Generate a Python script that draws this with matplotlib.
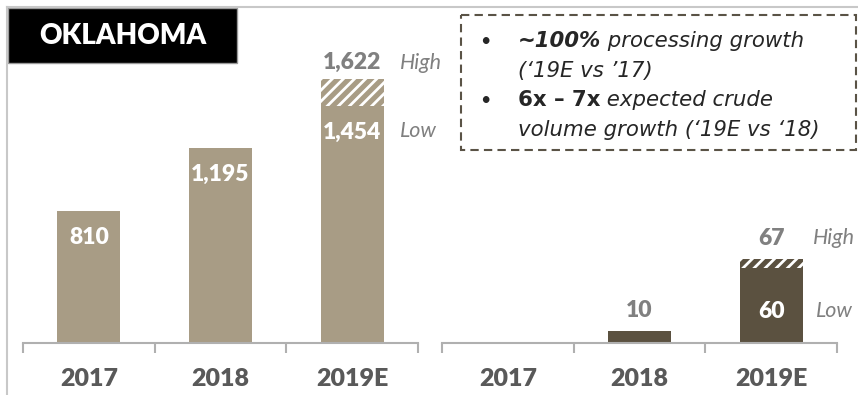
"""
Oklahoma: processing volumes (left) and crude volumes (right), 2017-2019E.
Output: out.png
"""

import matplotlib.pyplot as plt
from matplotlib.patches import Rectangle

plt.rcParams['font.family'] = ['Lato', 'DejaVu Sans']
plt.rcParams['hatch.linewidth'] = 2.0

# ── data ──────────────────────────────────────────────────────────────────────
years = ['2017', '2018', '2019E']
processing_low = [810, 1195, 1454]
processing_high = 1622
crude_low = [0, 10, 60]
crude_high = 67

TAN = '#a89c85'
DARK = '#5b5140'
AXIS = '#b0b0b0'
TXT = '#595959'
MUTED = '#808080'
NOTE = '#262626'

W, H = 858, 395
fig = plt.figure(figsize=(W / 100, H / 100), dpi=100)


def px(x0, y0, x1, y1):
    return [x0 / W, 1 - y1 / H, (x1 - x0) / W, (y1 - y0) / H]


def style(ax, ymax):
    ax.set_xlim(-0.5, 2.5)
    ax.set_ylim(0, ymax)
    for s in ['top', 'right', 'left']:
        ax.spines[s].set_visible(False)
    ax.spines['bottom'].set_color(AXIS)
    ax.spines['bottom'].set_linewidth(1.5)
    ax.set_yticks([])
    ax.set_xticks(range(len(years)), years, fontsize=18, fontweight='heavy', color=TXT)
    ax.set_xticks([-0.5, 0.5, 1.5, 2.5], minor=True)
    ax.tick_params(axis='x', which='major', length=0, pad=18)
    ax.tick_params(axis='x', which='minor', length=7, width=1.5, color=AXIS)
    ax.patch.set_alpha(0)


def label(ax, x, y, s, dy, color='white', **kw):
    kw.setdefault('fontweight', 'heavy')
    kw.setdefault('fontsize', 16.5)
    kw.setdefault('ha', 'center')
    ax.annotate(s, (x, y), xytext=(0, dy), textcoords='offset points',
                va='center', color=color, **kw)


def tag(ax, x, y, s, dy):
    label(ax, x, y, s, dy, color=MUTED, fontweight='normal', fontstyle='italic',
          fontsize=15.5, ha='left')


ax1 = fig.add_axes(px(23, 7, 418, 343))
ax2 = fig.add_axes(px(442, 7, 837, 343))
style(ax1, 2061)
style(ax2, 269)

# ── processing (left) ─────────────────────────────────────────────────────────
x = list(range(len(years)))
ax1.bar(x, processing_low, width=0.48, color=TAN, lw=0)
ax1.bar(x[-1], processing_high - processing_low[-1], bottom=processing_low[-1],
        width=0.48, color=TAN, edgecolor='white', hatch='///', lw=0)
for i, v in enumerate(processing_low):
    label(ax1, i, v, f'{v:,}', -19)
label(ax1, x[-1], processing_high, f'{processing_high:,}', 11.5, color=MUTED)
tag(ax1, 2.36, processing_high, 'High', 11.5)
tag(ax1, 2.36, processing_low[-1], 'Low', -18)

# ── crude (right) ─────────────────────────────────────────────────────────────
ax2.bar(x, crude_low, width=0.48, color=DARK, lw=0)
ax2.bar(x[-1], crude_high - crude_low[-1], bottom=crude_low[-1],
        width=0.48, color=DARK, edgecolor='white', hatch='///', lw=0)
for i, v in enumerate(crude_low[:-1]):
    if v:
        label(ax2, i, v, f'{v:,}', 14.5, color=MUTED)
label(ax2, x[-1], crude_low[-1], f'{crude_low[-1]:,}', -31)
label(ax2, x[-1], crude_high, f'{crude_high:,}', 15, color=MUTED)
tag(ax2, 2.32, crude_high, 'High', 15)
tag(ax2, 2.34, crude_low[-1], 'Low', -31)

# ── frame, title tag and note box ─────────────────────────────────────────────
ov = fig.add_axes([0, 0, 1, 1], zorder=5)
ov.set_xlim(0, W)
ov.set_ylim(H, 0)
ov.axis('off')
ov.plot([7, W], [7, 7], color='#c8c8c8', lw=1.5)
ov.plot([7, 7], [7, H], color='#c8c8c8', lw=1.5)
ov.add_patch(Rectangle((8, 8), 229, 55, facecolor='black', edgecolor='#999999', lw=1))
ov.text(123, 36, 'OKLAHOMA', color='white', fontsize=20, fontweight='heavy',
        ha='center', va='center')
ov.add_patch(Rectangle((461, 15), 395, 135, fill=False, edgecolor='#5a5346',
                       lw=1.5, ls=(0, (4, 2.5))))

NOTE_FONT = ['DejaVu Sans']


def rich(x, y, parts):
    prev = None
    for s, kw in parts:
        if prev is None:
            prev = ov.text(x, y, s, va='center', ha='left', color=NOTE,
                           fontsize=15.3, family=NOTE_FONT, **kw)
        else:
            prev = ov.annotate(s, xy=(1, 0), xycoords=prev, va='bottom', ha='left',
                               color=NOTE, fontsize=15.3, family=NOTE_FONT, **kw)


note_rows = [41, 71, 100, 130]
it = {'fontstyle': 'italic'}
rich(518, note_rows[0], [('~100%', {'fontstyle': 'italic', 'fontweight': 'bold'}),
                         (' processing growth', it)])
rich(518, note_rows[1], [('(\u201819E vs \u201917)', it)])
rich(518, note_rows[2], [('6x \u2013 7x', {'fontweight': 'bold'}),
                         (' expected crude', it)])
rich(518, note_rows[3], [('volume growth (\u201819E vs \u201818)', it)])
for r in (note_rows[0], note_rows[2]):
    ov.text(485, r, '\u2022', ha='center', va='center', fontsize=13, color=NOTE)

fig.savefig('out.png', dpi=100)
